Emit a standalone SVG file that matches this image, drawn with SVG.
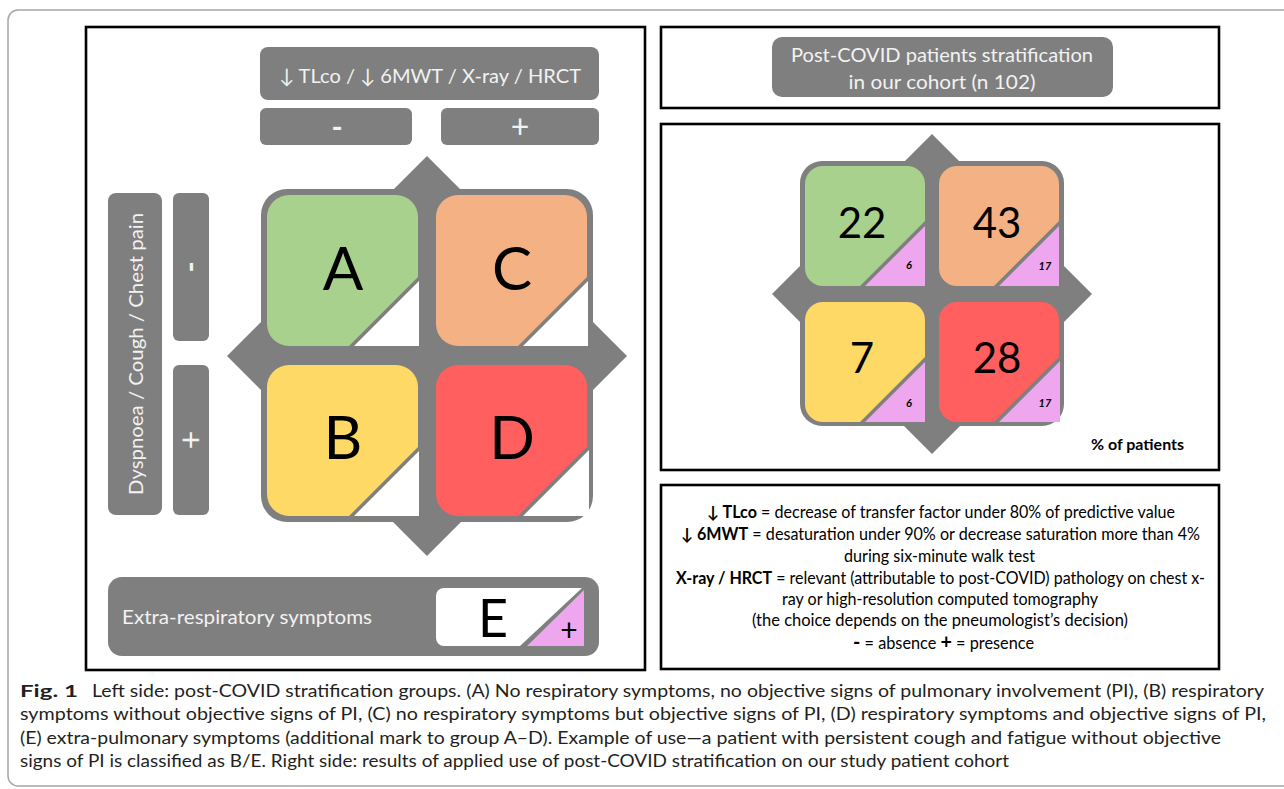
<svg xmlns="http://www.w3.org/2000/svg" width="1284" height="789" viewBox="0 0 1284 789">
<style>
.frame{fill:none;stroke:#a6a6a6;stroke-width:1.5}
.panel{fill:#fff;stroke:#000;stroke-width:2.6}
.gbox{fill:#7f7f7f}
.wt{fill:#f2f2f2;font-family:Lato,"DejaVu Sans",sans-serif}
.bk{fill:#000;font-family:Lato,"DejaVu Sans",sans-serif}
.lg{font-size:16.5px}
.cap{fill:#231f20;font-family:Lato,"Liberation Sans",sans-serif;font-size:17.5px}
.green{fill:#a9d18e}.orange{fill:#f4b183}.yellow{fill:#ffd966}.red{fill:#ff5f5f}
.white{fill:#fff}.pink{fill:#eea6ee}
.mid{text-anchor:middle}
.b{font-weight:bold}
</style>
<rect class="frame" x="8" y="10" width="1300" height="776" rx="10"/>

<!-- LEFT PANEL -->
<g id="left-panel">
<rect class="panel" x="86" y="27" width="559" height="643"/>
</g>
<g id="header-x">
<rect class="gbox" x="260" y="47" width="339" height="53" rx="8"/>
<text class="wt mid" x="430" y="83" font-size="20" textLength="302" lengthAdjust="spacingAndGlyphs">↓ TLco / ↓ 6MWT / X-ray / HRCT</text>
</g>
<g id="x-minus">
<rect class="gbox" x="260" y="108" width="152" height="37" rx="6"/>
<text class="wt mid" x="337" y="138" font-size="30" font-weight="bold">-</text>
</g>
<g id="x-plus">
<rect class="gbox" x="441" y="108" width="158" height="37" rx="6"/>
<text class="wt mid" x="520" y="138" font-size="32">+</text>
</g>
<g id="header-y">
<rect class="gbox" x="108" y="193" width="54" height="322" rx="8"/>
<text class="wt mid" transform="translate(143,354) rotate(-90)" x="0" y="0" font-size="20" textLength="282" lengthAdjust="spacingAndGlyphs">Dyspnoea / Cough / Chest pain</text>
</g>
<g id="y-minus">
<rect class="gbox" x="173" y="193" width="36" height="148" rx="6"/>
<text class="wt mid" transform="translate(201,267) rotate(-90)" font-size="30" font-weight="bold">-</text>
</g>
<g id="y-plus">
<rect class="gbox" x="173" y="365" width="36" height="150" rx="6"/>
<text class="wt mid" transform="translate(202,440) rotate(-90)" font-size="32">+</text>
</g>

<g id="quad-left-bg">
<polygon class="gbox" points="427,156 627,356 427,556 227,356"/>
<rect class="gbox" x="261" y="189" width="332" height="333" rx="26"/>
</g>
<g id="group-A">
<path class="green" d="M289,195 H396 A22,22 0 0 1 418,217 V277 L349,346 H289 A22,22 0 0 1 267,324 V217 A22,22 0 0 1 289,195 Z"/>
<polygon class="white" points="354,346 419,346 419,281"/>
<text class="bk mid" x="343" y="290" font-size="60">A</text>
</g>
<g id="group-C">
<path class="orange" d="M458,195 H565 A22,22 0 0 1 587,217 V277 L518,346 H458 A22,22 0 0 1 436,324 V217 A22,22 0 0 1 458,195 Z"/>
<polygon class="white" points="523,346 588,346 588,281"/>
<text class="bk mid" x="512" y="290" font-size="60">C</text>
</g>
<g id="group-B">
<path class="yellow" d="M289,365 H396 A22,22 0 0 1 418,387 V447 L349,516 H289 A22,22 0 0 1 267,494 V387 A22,22 0 0 1 289,365 Z"/>
<polygon class="white" points="354,516 419,516 419,451"/>
<text class="bk mid" x="343" y="459" font-size="60">B</text>
</g>
<g id="group-D">
<path class="red" d="M458,365 H565 A22,22 0 0 1 587,387 V447 L518,516 H458 A22,22 0 0 1 436,494 V387 A22,22 0 0 1 458,365 Z"/>
<polygon class="white" points="523,516 589,516 589,450"/>
<text class="bk mid" x="512" y="459" font-size="60">D</text>
</g>

<g id="group-E">
<rect class="gbox" x="108" y="577" width="491" height="79" rx="14"/>
<text class="wt" x="122" y="624" font-size="20" textLength="250" lengthAdjust="spacingAndGlyphs">Extra-respiratory symptoms</text>
<path class="white" d="M444,588 H582 L520,646 H444 A8,8 0 0 1 436,638 V596 A8,8 0 0 1 444,588 Z"/>
<polygon class="pink" points="527,646 584,646 584,590"/>
<text class="bk mid" x="493" y="637" font-size="52">E</text>
<text class="bk mid" x="569" y="641" font-size="30">+</text>
</g>

<!-- RIGHT PANELS -->
<g id="title-panel">
<rect class="panel" x="661" y="27" width="558" height="81"/>
<rect class="gbox" x="772" y="37" width="341" height="60" rx="10"/>
<text class="wt mid" x="942" y="62" font-size="20" textLength="302" lengthAdjust="spacingAndGlyphs">Post-COVID patients stratification</text>
<text class="wt mid" x="942" y="89" font-size="20" textLength="187" lengthAdjust="spacingAndGlyphs">in our cohort (n 102)</text>
</g>

<g id="results-panel">
<rect class="panel" x="661" y="124" width="558" height="346"/>
<polygon class="gbox" points="932,134 1092,294 932,454 772,294"/>
<rect class="gbox" x="800" y="161" width="264" height="265" rx="22"/>
<text class="bk" x="1091" y="450" font-size="14.5" font-weight="bold" textLength="93" lengthAdjust="spacingAndGlyphs">% of patients</text>
</g>
<g id="result-A">
<path class="green" d="M823,166 H907 A18,18 0 0 1 925,184 V221 L860,286 H823 A18,18 0 0 1 805,268 V184 A18,18 0 0 1 823,166 Z"/>
<polygon class="pink" points="865,286 925,286 925,226"/>
<text class="bk mid" x="862" y="238" font-size="42">22</text>
<text class="bk mid" x="909" y="269" font-size="11" font-weight="bold" font-style="italic">6</text>
</g>
<g id="result-C">
<path class="orange" d="M957,166 H1041 A18,18 0 0 1 1059,184 V221 L994,286 H957 A18,18 0 0 1 939,268 V184 A18,18 0 0 1 957,166 Z"/>
<polygon class="pink" points="999,286 1059,286 1059,226"/>
<text class="bk mid" x="997" y="238" font-size="42">43</text>
<text class="bk mid" x="1045" y="270" font-size="11" font-weight="bold" font-style="italic">17</text>
</g>
<g id="result-B">
<path class="yellow" d="M823,302 H907 A18,18 0 0 1 925,320 V357 L860,422 H823 A18,18 0 0 1 805,404 V320 A18,18 0 0 1 823,302 Z"/>
<polygon class="pink" points="865,422 925,422 925,362"/>
<text class="bk mid" x="862" y="373" font-size="42">7</text>
<text class="bk mid" x="909" y="407" font-size="11" font-weight="bold" font-style="italic">6</text>
</g>
<g id="result-D">
<path class="red" d="M957,302 H1041 A18,18 0 0 1 1059,320 V357 L994,422 H957 A18,18 0 0 1 939,404 V320 A18,18 0 0 1 957,302 Z"/>
<polygon class="pink" points="999,422 1060,422 1060,361"/>
<text class="bk mid" x="997" y="373" font-size="42">28</text>
<text class="bk mid" x="1045" y="407" font-size="11" font-weight="bold" font-style="italic">17</text>
</g>

<g id="legend-panel">
<rect class="panel" x="661" y="485" width="558" height="184"/>
<text class="bk mid lg" x="941" y="518" textLength="468" lengthAdjust="spacingAndGlyphs"><tspan class="b">↓ TLco</tspan> = decrease of transfer factor under 80% of predictive value</text>
<text class="bk mid lg" x="940.5" y="540" textLength="519" lengthAdjust="spacingAndGlyphs"><tspan class="b">↓ 6MWT</tspan> = desaturation under 90% or decrease saturation more than 4%</text>
<text class="bk mid lg" x="939.5" y="562" textLength="191" lengthAdjust="spacingAndGlyphs">during six-minute walk test</text>
<text class="bk mid lg" x="940.5" y="584" textLength="529" lengthAdjust="spacingAndGlyphs"><tspan class="b">X-ray / HRCT</tspan> = relevant (attributable to post-COVID) pathology on chest x-</text>
<text class="bk mid lg" x="940" y="605" textLength="316" lengthAdjust="spacingAndGlyphs">ray or high-resolution computed tomography</text>
<text class="bk mid lg" x="940" y="626" textLength="376" lengthAdjust="spacingAndGlyphs">(the choice depends on the pneumologist’s decision)</text>
<text class="bk lg" x="853" y="649" textLength="181" lengthAdjust="spacingAndGlyphs"><tspan class="b" font-size="20">-</tspan> = absence  <tspan class="b" font-size="20">+</tspan> = presence</text>
</g>

<g id="caption">
<text class="cap" x="20" y="697" font-weight="bold" font-size="19" textLength="58" lengthAdjust="spacingAndGlyphs">Fig. 1</text>
<text class="cap" x="92" y="697" textLength="1172" lengthAdjust="spacingAndGlyphs">Left side: post-COVID stratification groups. (A) No respiratory symptoms, no objective signs of pulmonary involvement (PI), (B) respiratory</text>
<text class="cap" x="20" y="720" textLength="1246" lengthAdjust="spacingAndGlyphs">symptoms without objective signs of PI, (C) no respiratory symptoms but objective signs of PI, (D) respiratory symptoms and objective signs of PI,</text>
<text class="cap" x="20" y="744" textLength="1201" lengthAdjust="spacingAndGlyphs">(E) extra-pulmonary symptoms (additional mark to group A–D). Example of use—a patient with persistent cough and fatigue without objective</text>
<text class="cap" x="20" y="767" textLength="989" lengthAdjust="spacingAndGlyphs">signs of PI is classified as B/E. Right side: results of applied use of post-COVID stratification on our study patient cohort</text>
</g>
</svg>
